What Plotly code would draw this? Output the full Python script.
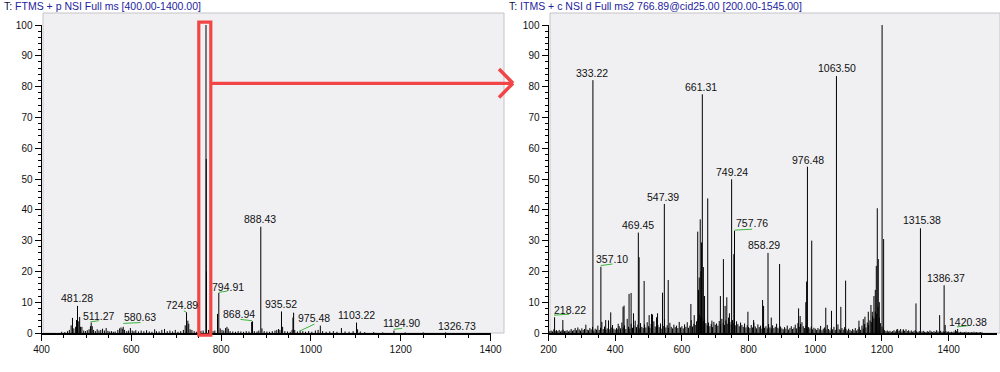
import plotly.graph_objects as go

# ---------------- data: left panel (FTMS full MS) ----------------
ms1_mz = [445, 452, 458, 462, 466, 469, 472, 476, 478, 480.2, 483, 485, 487, 490, 494, 498,
          502, 506, 509, 510.7, 513, 516, 520, 524, 528, 532, 536, 540, 544, 548, 552, 556,
          560, 564, 570, 574, 577, 580, 582, 585, 590, 594, 598, 602, 606, 610, 616, 622,
          628, 634, 640, 646, 652, 656, 662, 668, 674, 680, 686, 692, 698, 704, 710, 716,
          720, 723, 726, 728, 731, 735, 740, 745, 750, 755, 760, 766.4, 766.9, 767.4, 772,
          776, 782, 786, 792, 794.9, 798, 802, 806, 810, 813, 816, 820, 826, 832, 838, 844,
          850, 856, 862, 868, 870, 874, 880, 884, 888.4, 891, 896, 902, 908, 914, 920, 924,
          928, 931, 934.5, 937, 942, 948, 954, 958, 960, 961.5, 964, 970, 976, 982, 988, 995,
          1002, 1010, 1016, 1021, 1026, 1034, 1042, 1050, 1058, 1068, 1076, 1085, 1094,
          1101.6, 1104, 1110, 1120, 1140, 1160, 1185, 1210, 1250, 1300]
ms1_int = [0.4, 0.3, 0.6, 1.0, 2.5, 4.9, 1.5, 2.0, 4.2, 8.8, 3.8, 5.2, 2.0, 2.0, 0.8, 0.6,
           0.9, 1.2, 2.2, 3.4, 2.2, 1.0, 0.6, 1.2, 0.8, 1.0, 1.4, 0.8, 1.6, 0.7, 0.5, 0.6,
           0.4, 0.5, 1.0, 1.5, 1.8, 1.4, 2.0, 1.0, 0.6, 0.8, 1.6, 0.8, 0.6, 0.9, 0.5, 0.8,
           0.6, 0.9, 0.5, 0.4, 1.2, 0.6, 0.5, 1.0, 1.3, 0.6, 0.8, 0.5, 1.0, 0.4, 0.6, 1.0,
           2.5, 6.8, 4.0, 3.0, 1.2, 1.0, 0.6, 0.4, 0.5, 0.7, 0.8, 100.0, 56.5, 20.0, 1.0,
           0.8, 0.6, 0.8, 6.2, 13.0, 1.5, 1.0, 0.8, 1.6, 2.0, 1.4, 0.6, 0.5, 0.4, 0.6, 0.5,
           0.4, 0.6, 0.5, 3.6, 3.8, 0.6, 0.5, 0.8, 34.5, 1.5, 0.6, 0.5, 0.4, 0.6, 0.8, 1.0,
           1.3, 1.0, 7.0, 2.0, 0.6, 0.5, 0.4, 1.0, 5.0, 6.6, 1.0, 0.5, 0.8, 0.6, 0.4, 0.6,
           0.4, 0.8, 1.0, 2.4, 0.6, 0.4, 0.5, 0.6, 0.4, 1.6, 0.5, 0.4, 0.6,
           3.4, 1.2, 0.5, 0.3, 0.3, 0.2, 0.8, 0.2, 0.2, 0.2]

# peak labels: text, label x (m/z), label y (%)
ms1_lab_txt = ["766.40", "888.43", "794.91", "868.94", "935.52", "975.48", "1103.22",
               "481.28", "511.27", "580.63", "724.89", "1184.90", "1326.73"]
ms1_lab_x = [763, 886.6, 814.3, 840.3, 933.4, 1005.8, 1101.1, 479.1, 527.6, 619.4, 714.0, 1202.4, 1326.1]
ms1_lab_y = [102.4, 36.9, 15.0, 6.1, 9.3, 4.8, 5.8, 11.3, 5.6, 5.1, 9.0, 3.1, 2.4]
# green leader segments (x0, y0, x1, y1)
ms1_lead = [(509.1, 3.6, 527.6, 4.0), (582.0, 3.1, 620.5, 3.4), (717, 7.2, 723, 6.7),
            (794.9, 13.2, 813.6, 13.6), (843, 4.4, 869, 4.0), (975.3, 0.65, 1008, 2.9),
            (1184.7, 1.2, 1203.3, 1.5)]

# ---------------- data: right panel (ITMS MS2) ----------------
ms2_peak_mz = [218.2, 243, 333.2, 357.1, 371.5, 386.6, 409, 423.6, 426.6, 441.6, 447.7, 455,
               469.4, 471.7, 486.8, 501.8, 509, 512, 524, 527, 542, 547.4, 559, 627, 637,
               647.5, 650, 652, 655, 657, 659, 661.3, 664.4, 668, 677.5, 690, 715.5, 724.5,
               729.6, 734.7, 742.6, 749.2, 755.8, 757.8, 798, 815, 842, 845, 858.3, 868,
               893, 950, 954.6, 971.6, 974, 976.5, 989.4, 1031.5, 1048.6, 1063.5, 1076.7,
               1091, 1131, 1144, 1149, 1159, 1167, 1171, 1176, 1180, 1183, 1186, 1189, 1192,
               1200.4, 1205, 1247, 1264, 1302, 1315.4, 1373, 1386.4, 1389.6, 1420.4, 1427]
ms2_peak_int = [5.1, 4.2, 82.1, 21.5, 4.2, 6.7, 3.0, 8.5, 8.9, 12.7, 13.0, 6.4,
                32.6, 24.6, 16.9, 5.8, 6.2, 6.0, 5.1, 6.4, 13.1, 41.9, 17.2, 9.4, 5.8,
                32.9, 14.0, 18.0, 36.9, 20.0, 29.4, 77.5, 21.4, 12.0, 43.7, 4.0, 12.0, 24.0,
                8.8, 11.6, 6.4, 49.9, 25.6, 33.2, 6.9, 4.2, 10.7, 8.8, 26.0, 5.0,
                22.4, 8.0, 5.5, 10.0, 16.7, 54.0, 30.0, 8.2, 7.2, 83.4, 8.5,
                17.0, 4.0, 4.5, 5.3, 6.9, 9.1, 6.9, 12.0, 14.0, 21.8, 40.5, 24.0, 10.0,
                100.0, 30.5, 1.3, 1.2, 9.6, 34.0, 5.8, 15.5, 2.6, 1.0, 1.3]

# baseline noise on a 4-unit m/z grid (204 ... 1500)
ms2_noise_mz = list(range(204, 1504, 4))
ms2_noise_int = [
    0.6, 0.8, 0.5, 1.2, 0.7, 0.9, 0.6, 1.0, 0.5, 0.8, 1.1, 0.6, 0.7, 0.9, 0.5, 0.8, 1.3, 0.7, 1.0, 1.6, 0.9, 1.8, 1.2, 0.8, 1.5,
    1.0, 1.3, 2.7, 1.1, 0.9, 1.6, 1.2, 2.0, 0.8, 1.4, 1.1, 2.4, 1.0, 1.7, 3.6, 1.3, 2.1, 1.0, 1.5, 4.1, 1.2, 1.8, 2.6, 1.4, 1.1,
    1.6, 1.2, 2.2, 1.5, 3.4, 1.8, 2.5, 1.3, 4.6, 2.0, 1.4, 3.0, 1.7, 2.4, 4.0, 1.9, 2.7, 1.5, 3.2, 2.0, 1.6, 2.8, 1.8, 3.5, 2.2,
    1.7, 2.9, 1.5, 3.8, 2.1, 1.6, 2.6, 1.9, 3.1, 1.4, 2.3, 4.4, 1.8, 2.5, 1.6, 3.3, 2.0, 1.5, 2.7, 1.9, 2.4, 1.6, 3.6, 1.8, 2.2,
    1.5, 2.8, 2.0, 3.5, 1.7, 2.4, 4.2, 2.1, 3.0, 2.6, 3.8, 4.5, 6.0, 5.2, 4.8, 3.9, 4.4, 3.2, 2.5, 3.4, 2.2, 2.9, 1.9, 3.6, 2.7,
    3.1, 2.4, 3.9, 2.8, 4.6, 3.3, 2.6, 4.1, 3.0, 5.0, 3.6, 2.8, 4.2, 3.3, 2.5, 3.8, 2.9, 2.2, 3.4, 2.6, 2.0, 3.1, 1.8, 2.5, 1.9,
    1.6, 2.6, 1.8, 3.4, 2.1, 1.5, 2.8, 1.9, 2.4, 1.4, 3.1, 1.7, 2.2, 1.5, 2.9, 1.8, 1.4, 2.5, 1.6, 2.0, 3.0, 1.7, 1.3, 2.1, 1.5,
    1.2, 1.9, 1.4, 2.4, 1.1, 1.6, 2.2, 1.3, 1.8, 2.7, 1.5, 3.2, 2.0, 2.9, 3.5, 2.2, 1.6, 2.4, 1.3, 1.9, 1.5, 2.1, 1.2, 1.7, 1.4,
    1.0, 1.6, 1.2, 2.3, 0.9, 1.4, 1.8, 1.1, 2.6, 1.3, 0.9, 1.7, 1.2, 2.0, 1.0, 1.5, 2.8, 1.2, 0.9, 1.6, 1.1, 1.9, 1.3, 0.8, 1.4,
    1.0, 0.7, 1.3, 0.9, 1.6, 0.8, 1.2, 1.9, 1.0, 2.4, 1.4, 2.9, 1.8, 3.4, 2.6, 4.1, 3.6, 5.5, 4.8, 7.0, 6.2, 8.5, 5.0, 3.2, 2.1,
    1.4, 0.9, 0.6, 0.8, 0.5, 0.7, 0.4, 0.6, 0.9, 0.5, 1.1, 0.6, 0.8, 1.3, 0.5, 1.0, 0.7, 1.2, 0.6, 0.9, 0.5, 0.8, 0.4, 0.7, 0.9,
    0.5, 0.4, 0.6, 0.3, 0.5, 0.7, 0.4, 0.3, 0.6, 0.4, 0.8, 0.5, 0.3, 0.6, 0.4, 0.9, 0.5, 0.3, 0.7, 0.4, 0.5, 0.3, 0.6, 0.4, 0.5,
    0.3, 0.4, 0.2, 0.5, 0.3, 0.6, 0.3, 0.2, 0.4, 0.3, 0.2, 0.3, 0.4, 0.2, 0.3, 0.2, 0.3, 0.2, 0.4, 0.2, 0.3, 0.2, 0.2, 0.3, 0.2]

ms2_lab_txt = ["1200.44", "1063.50", "333.22", "661.31", "749.24", "976.48", "547.39", "469.45",
               "357.10", "757.76", "858.29", "218.22", "1315.38", "1386.37", "1420.38"]
ms2_lab_x = [1201.5, 1065.2, 331.5, 656.8, 749.2, 977, 544.6, 467.8, 391.1, 810, 847, 263.8, 1318.9, 1391.1, 1459.4]
ms2_lab_y = [102.5, 85.9, 84.5, 80.0, 52.4, 56.2, 44.3, 35.1, 23.9, 35.6, 28.6, 7.5, 36.7, 17.8, 3.7]
ms2_lead = [(216.5, 5.8, 261.6, 6.1), (356.7, 21.9, 391.9, 22.4), (757.7, 33.4, 810.9, 33.7),
            (1424.8, 2.0, 1460, 2.4)]

ms1_title = "<span style='color:#101040'>T:</span> FTMS + p NSI Full ms [400.00-1400.00]"
ms2_title = "<span style='color:#101040'>T:</span> ITMS + c NSI d Full ms2 766.89@cid25.00 [200.00-1545.00]"

# ---------------- figure ----------------
W, H = 1000, 372
def px(x): return x / W
def py(y): return 1 - y / H

def sticks(mz, inten):
    xs, ys = [], []
    for m, i in zip(mz, inten):
        xs += [m, m, None]
        ys += [0, i, None]
    return xs, ys

fig = go.Figure()
lx, ly = sticks(ms1_mz, ms1_int)
fig.add_trace(go.Scatter(x=lx, y=ly, mode="lines", line=dict(color="black", width=1),
                         xaxis="x", yaxis="y", hoverinfo="skip", showlegend=False))
nx, ny = sticks(ms2_noise_mz, ms2_noise_int)
fig.add_trace(go.Scatter(x=nx, y=ny, mode="lines", line=dict(color="black", width=1),
                         xaxis="x2", yaxis="y2", hoverinfo="skip", showlegend=False))
rx, ry = sticks(ms2_peak_mz, ms2_peak_int)
fig.add_trace(go.Scatter(x=rx, y=ry, mode="lines", line=dict(color="black", width=1),
                         xaxis="x2", yaxis="y2", hoverinfo="skip", showlegend=False))

ydom = [py(333), py(25)]
tickfont = dict(family="Liberation Sans, Arial, sans-serif", size=10, color="#111111")
common_x = dict(showline=True, linecolor="black", linewidth=1.5, ticks="outside", ticklen=6,
                tickcolor="black", showgrid=False, zeroline=False, tickfont=tickfont,
                automargin=False,
                minor=dict(dtick=50, ticklen=3, tickcolor="black", ticks="outside", showgrid=False),
                fixedrange=True)
common_y = dict(showline=True, linecolor="black", linewidth=1, ticks="outside", ticklen=6,
                tickcolor="black", showgrid=False, zeroline=False, tickfont=tickfont,
                automargin=False, range=[0, 100], dtick=10, tick0=0,
                minor=dict(dtick=2, ticklen=3, tickcolor="black", ticks="outside", showgrid=False),
                fixedrange=True)

fig.update_layout(
    template="none",
    width=W, height=H, margin=dict(l=0, r=0, t=0, b=0, pad=0), autosize=False,
    paper_bgcolor="white", plot_bgcolor="rgba(0,0,0,0)",
    xaxis=dict(domain=[px(41.5), px(490.5)], range=[400, 1400], dtick=200, tick0=400, anchor="y", **common_x),
    yaxis=dict(domain=ydom, anchor="x", **common_y),
    xaxis2=dict(domain=[px(548.5), px(997)], range=[200, 1545], dtick=200, tick0=200, anchor="y2", **common_x),
    yaxis2=dict(domain=ydom, anchor="x2", **common_y),
)

shapes = []
# shaded plot backgrounds
for x0, x1 in [(43, 504), (550, 1000)]:
    shapes.append(dict(type="rect", xref="paper", yref="paper", x0=px(x0), x1=px(x1),
                       y0=py(333), y1=py(13), fillcolor="#f0f0f3",
                       line=dict(color="#c4c4c8", width=1), layer="below"))
# green leader lines
for (x0, y0, x1, y1) in ms1_lead:
    shapes.append(dict(type="line", xref="x", yref="y", x0=x0, y0=y0, x1=x1, y1=y1,
                       line=dict(color="#3cb43c", width=1)))
for (x0, y0, x1, y1) in ms2_lead:
    shapes.append(dict(type="line", xref="x2", yref="y2", x0=x0, y0=y0, x1=x1, y1=y1,
                       line=dict(color="#3cb43c", width=1)))
# red highlight box and arrow
red = "#f24646"
shapes.append(dict(type="rect", xref="paper", yref="paper", x0=px(198.8), x1=px(210.8),
                   y0=py(335.2), y1=py(22.2), line=dict(color=red, width=3.2)))
shapes.append(dict(type="line", xref="paper", yref="paper", x0=px(212), y0=py(83.3),
                   x1=px(511), y1=py(83.3), line=dict(color=red, width=3.2)))
shapes.append(dict(type="line", xref="paper", yref="paper", x0=px(499), y0=py(69),
                   x1=px(513), y1=py(83.3), line=dict(color=red, width=3.5)))
shapes.append(dict(type="line", xref="paper", yref="paper", x0=px(499), y0=py(97.5),
                   x1=px(513), y1=py(83.3), line=dict(color=red, width=3.5)))
fig.update_layout(shapes=shapes)

ann = []
labfont = dict(family="Liberation Sans, Arial, sans-serif", size=10.5, color="#111111")
for t, x, y in zip(ms1_lab_txt, ms1_lab_x, ms1_lab_y):
    ann.append(dict(text=t, x=x, y=y, xref="x", yref="y", showarrow=False,
                    xanchor="center", yanchor="middle", font=labfont))
for t, x, y in zip(ms2_lab_txt, ms2_lab_x, ms2_lab_y):
    ann.append(dict(text=t, x=x, y=y, xref="x2", yref="y2", showarrow=False,
                    xanchor="center", yanchor="middle", font=labfont))
titlefont = dict(family="Liberation Sans, Arial, sans-serif", size=10.5, color="#2323a0")
ann.append(dict(text=ms1_title, x=px(2), y=py(6.5), xref="paper", yref="paper", showarrow=False,
                xanchor="left", yanchor="middle", font=titlefont))
ann.append(dict(text=ms2_title, x=px(507), y=py(6.5), xref="paper", yref="paper", showarrow=False,
                xanchor="left", yanchor="middle", font=titlefont))
fig.update_layout(annotations=ann)

fig.write_html("out.html", config={"displayModeBar": False},
               post_script="document.body.style.margin='0';document.body.style.padding='0';"
                           "document.documentElement.style.overflow='hidden';")
